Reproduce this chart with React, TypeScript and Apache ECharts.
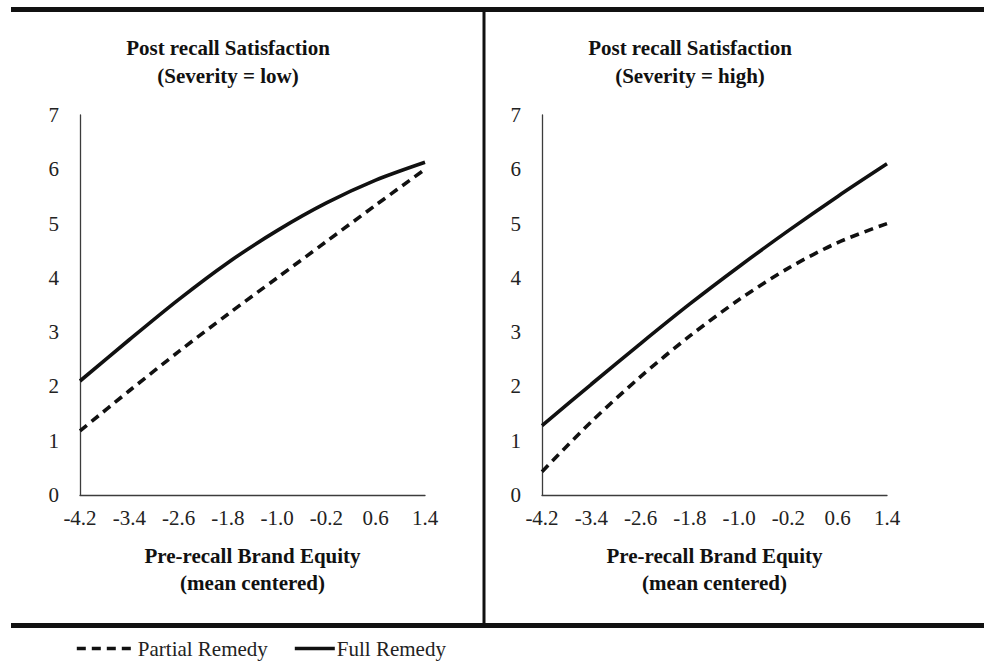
import React, { useEffect, useRef } from "react";
import * as echarts from "echarts";

const xLabels = ["-4.2", "-3.4", "-2.6", "-1.8", "-1.0", "-0.2", "0.6", "1.4"];
const yTicks = [0, 1, 2, 3, 4, 5, 6, 7];

const lowPartial = [1.18, 1.92, 2.64, 3.33, 4.0, 4.67, 5.34, 6.0];
const lowFull = [2.1, 2.86, 3.6, 4.28, 4.87, 5.38, 5.8, 6.13];
const highPartial = [0.43, 1.35, 2.18, 2.93, 3.6, 4.18, 4.65, 5.0];
const highFull = [1.28, 2.04, 2.79, 3.52, 4.21, 4.87, 5.5, 6.1];

const panelTitles = [
  "Post recall Satisfaction\n(Severity = low)",
  "Post recall Satisfaction\n(Severity = high)",
];
const xAxisName = "Pre-recall Brand Equity\n(mean centered)";
const seriesNames = ["Partial Remedy", "Full Remedy"];

const FONT = "Liberation Serif";
const INK = "#111111";

export default function App() {
  const ref = useRef<HTMLDivElement>(null);

  useEffect(() => {
    if (!ref.current) return;
    const chart = echarts.init(ref.current, null, { renderer: "svg" });

    const axisLineStyle = { color: "#3c3c3c", width: 1.3 };
    const xAxisBase = {
      type: "category",
      data: xLabels,
      boundaryGap: false,
      axisLine: { show: true, lineStyle: axisLineStyle },
      axisTick: { show: false },
      axisLabel: {
        interval: 0,
        margin: 12,
        color: "#222",
        fontFamily: FONT,
        fontSize: 21,
      },
      splitLine: { show: false },
      name: xAxisName,
      nameLocation: "middle",
      nameGap: 47,
      nameTextStyle: {
        fontFamily: FONT,
        fontWeight: "bold",
        fontSize: 21,
        lineHeight: 27,
        color: INK,
      },
    };
    const yAxisBase = {
      type: "value",
      min: 0,
      max: 7,
      interval: 1,
      axisLine: { show: true, lineStyle: axisLineStyle },
      axisTick: { show: false },
      splitLine: { show: false },
      axisLabel: {
        margin: 21,
        color: "#222",
        fontFamily: FONT,
        fontSize: 21,
        formatter: (v: number) => (yTicks.includes(v) ? String(v) : ""),
      },
    };

    const dashed = {
      color: INK,
      width: 3.6,
      type: [9, 6],
    };
    const solid = { color: INK, width: 3.6, type: "solid" };

    const mkSeries = (name: string, data: number[], idx: number, style: any) => ({
      name,
      type: "line",
      xAxisIndex: idx,
      yAxisIndex: idx,
      data,
      smooth: 0.3,
      symbol: "none",
      showSymbol: false,
      lineStyle: style,
      itemStyle: { color: INK },
      emphasis: { disabled: true },
    });

    const titleStyle = {
      fontFamily: FONT,
      fontWeight: "bold",
      fontSize: 21,
      lineHeight: 28,
      color: INK,
    };
    const legendText = { fontFamily: FONT, fontSize: 21, color: "#222" };

    chart.setOption({
      animation: false,
      backgroundColor: "#ffffff",
      textStyle: { fontFamily: FONT },
      title: [
        { text: panelTitles[0], left: 223, top: 29, textAlign: "center", textStyle: titleStyle },
        { text: panelTitles[1], left: 685, top: 29, textAlign: "center", textStyle: titleStyle },
      ],
      legend: [
        {
          data: [seriesNames[0]],
          left: 70,
          top: 633,
          itemWidth: 58,
          itemHeight: 2,
          itemStyle: { opacity: 0 },
          lineStyle: { width: 3.6 },
          padding: 5,
          textStyle: { ...legendText, padding: [0, 0, 0, -2] },
        },
        {
          data: [seriesNames[1]],
          left: 288,
          top: 633,
          itemWidth: 40,
          itemHeight: 2,
          itemStyle: { opacity: 0 },
          lineStyle: { width: 3.6 },
          padding: 5,
          textStyle: { ...legendText, padding: [0, 0, 0, -3] },
        },
      ],
      grid: [
        { left: 80, top: 115, width: 345, bottom: 166 },
        { left: 542, top: 115, width: 345, bottom: 166 },
      ],
      xAxis: [
        { ...xAxisBase, gridIndex: 0 },
        { ...xAxisBase, gridIndex: 1 },
      ],
      yAxis: [
        { ...yAxisBase, gridIndex: 0 },
        { ...yAxisBase, gridIndex: 1 },
      ],
      series: [
        mkSeries(seriesNames[0], lowPartial, 0, dashed),
        mkSeries(seriesNames[1], lowFull, 0, solid),
        mkSeries(seriesNames[0], highPartial, 1, dashed),
        mkSeries(seriesNames[1], highFull, 1, solid),
      ],
      graphic: [
        {
          type: "rect",
          silent: true,
          shape: { x: 11, y: 7, width: 973, height: 5 },
          style: { fill: INK },
        },
        {
          type: "rect",
          silent: true,
          shape: { x: 482.5, y: 11, width: 3, height: 613 },
          style: { fill: INK },
        },
        {
          type: "rect",
          silent: true,
          shape: { x: 11, y: 623, width: 973, height: 5 },
          style: { fill: INK },
        },
      ],
    });

    return () => chart.dispose();
  }, []);

  return (
    <div
      ref={ref}
      style={{ position: "fixed", left: 0, top: 0, width: 984, height: 661, background: "#fff" }}
    />
  );
}
